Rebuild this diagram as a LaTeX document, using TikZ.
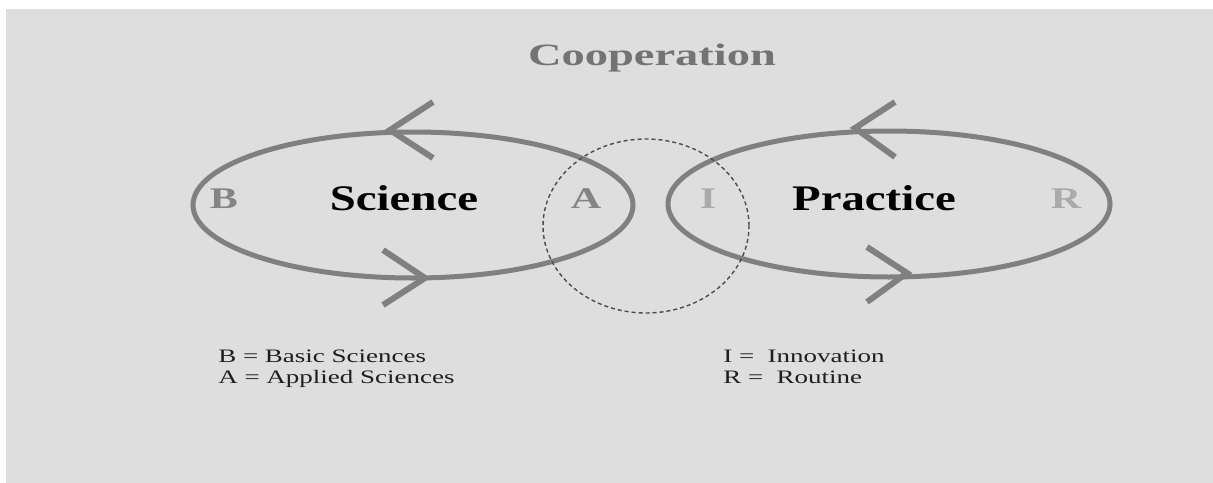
\documentclass[tikz,border=0pt]{standalone}
\usepackage{fontspec}
\setmainfont{Liberation Serif}
\definecolor{bggray}{RGB}{222,222,222}
\definecolor{loopgray}{RGB}{128,128,128}
\definecolor{lettergray}{RGB}{132,132,132}
\definecolor{palegray}{RGB}{170,170,170}
\definecolor{inkgray}{RGB}{30,30,30}
\tikzset{
  loop/.style={draw=loopgray, line width=5pt},
  chevron/.style={draw=loopgray, line width=6pt},
  coop/.style={draw=black!70, line width=1.4pt, dash pattern=on 4pt off 3pt},
  title/.style={anchor=base, font=\bfseries\fontsize{31}{31}\selectfont, text=black!55, xscale=1.5, transform shape, inner sep=0pt},
  field/.style={anchor=base, font=\bfseries\fontsize{36}{36}\selectfont, xscale=1.3, transform shape, inner sep=0pt},
  letter/.style={anchor=base, font=\bfseries\fontsize{30}{30}\selectfont, xscale=1.4, transform shape, inner sep=0pt},
  legend/.style={anchor=base west, font=\fontsize{19}{19}\selectfont, text=inkgray, xscale=1.42, transform shape, inner sep=0pt}
}
\begin{document}
\begin{tikzpicture}[x=1pt,y=-1pt]
  \useasboundingbox (0,0) rectangle (1213,482);
  \fill[white] (-5,-5) rectangle (1220,490);
  \fill[bggray] (6,9) rectangle (1220,490);

  % the two loops
  \draw[loop] (413,205) ellipse [x radius=220pt, y radius=73pt];
  \draw[loop] (889,204) ellipse [x radius=221pt, y radius=73pt];

  % turning direction
  \draw[chevron] (433,102) -- (390,130) -- (433,158);
  \draw[chevron] (383,250) -- (425,278) -- (383,305);
  \draw[chevron] (895,102) -- (855,128) -- (895,157);
  \draw[chevron] (867,247) -- (907,273) -- (867,302);

  % overlap
  \draw[coop] (646,226) ellipse [x radius=103pt, y radius=87pt];

  \node[title] (coop) at (652,65) {Cooperation};
  \node[field] (sci) at (404,210) {Science};
  \node[field] (prac) at (874,210) {Practice};

  \node[letter, text=lettergray] (b) at (224,208) {B};
  \node[letter, text=lettergray] (a) at (586,208) {A};
  \node[letter, text=palegray] (i) at (708,208) {I};
  \node[letter, text=palegray] (r) at (1066,208) {R};

  \node[legend] (leg-b) at (218,362) {B = Basic Sciences};
  \node[legend] (leg-a) at (218,383) {A = Applied Sciences};
  \node[legend] (leg-i) at (723,362) {I =\ \ Innovation};
  \node[legend] (leg-r) at (723,383) {R =\ \ Routine};
\end{tikzpicture}
\end{document}
